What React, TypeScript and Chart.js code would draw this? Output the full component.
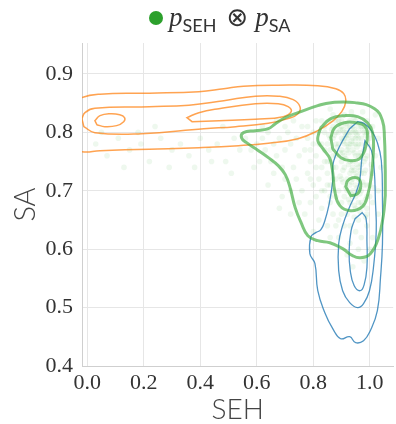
import React, { useEffect, useRef } from 'react';
import { Chart, registerables } from 'chart.js';

Chart.register(...registerables);

const xTicks = [0, 0.2, 0.4, 0.6, 0.8, 1.0];
const yTicks = [0.4, 0.5, 0.6, 0.7, 0.8, 0.9];

// green samples (SEH, SA)
const samplePairs: number[][] = [
  [0.86,0.79],[0.87,0.81],[0.88,0.78],[0.89,0.80],[0.90,0.82],[0.91,0.79],[0.92,0.77],[0.93,0.80],[0.94,0.81],[0.95,0.78],
  [0.96,0.80],[0.97,0.79],[0.98,0.81],[0.99,0.78],[0.88,0.76],[0.90,0.77],[0.92,0.81],[0.94,0.77],[0.96,0.76],[0.98,0.77],
  [0.87,0.83],[0.91,0.83],[0.95,0.82],[0.99,0.82],[0.93,0.78],[0.91,0.80],[0.95,0.80],[0.89,0.78],[0.97,0.81],[0.93,0.82],
  [0.86,0.77],[0.90,0.75],[0.94,0.75],[0.97,0.76],[1.00,0.79],[1.01,0.81],[0.92,0.79],[0.96,0.79],[0.90,0.81],[0.94,0.79],
  [0.88,0.82],[0.985,0.795],[0.925,0.765],[0.955,0.775],[0.905,0.785],[0.875,0.795],[0.945,0.805],[0.915,0.815],[0.965,0.815],[0.935,0.835],
  [0.895,0.765],[0.985,0.755],[0.865,0.805],[1.005,0.775],[0.975,0.835],[0.915,0.755],[0.955,0.745],[0.945,0.825],[0.925,0.795],[0.905,0.805],
  [0.90,0.72],[0.92,0.70],[0.93,0.73],[0.94,0.69],[0.95,0.71],[0.96,0.72],[0.97,0.70],[0.98,0.73],[0.99,0.71],[1.00,0.69],
  [0.91,0.74],[0.93,0.68],[0.95,0.67],[0.97,0.68],[0.99,0.67],[0.92,0.66],[0.94,0.72],[0.96,0.74],[0.98,0.75],[1.01,0.73],
  [0.89,0.70],[0.90,0.68],[0.955,0.705],[0.935,0.715],[0.975,0.715],[0.945,0.735],[0.965,0.695],[0.915,0.705],[0.985,0.685],[1.015,0.705],
  [0.925,0.745],[0.905,0.735],[0.945,0.655],[0.965,0.665],[0.985,0.655],[0.935,0.695],[0.955,0.725],[0.895,0.725],[1.005,0.745],[0.97,0.745],
  [0.88,0.74],[0.87,0.72],[0.91,0.76],[0.99,0.76],[1.02,0.76],[0.95,0.76],[0.93,0.75],
  [0.84,0.80],[0.85,0.78],[0.86,0.82],[0.87,0.79],[0.88,0.80],[0.89,0.82],[0.90,0.79],[0.91,0.78],[0.92,0.80],[0.93,0.81],
  [0.94,0.80],[0.95,0.79],[0.96,0.81],[0.97,0.78],[0.98,0.80],[0.99,0.80],[1.00,0.81],[0.92,0.78],[0.94,0.78],[0.96,0.78],
  [0.935,0.785],[0.915,0.795],[0.955,0.795],[0.975,0.805],[0.895,0.805],[0.885,0.775],[0.925,0.775],[0.965,0.765],[0.945,0.765],[0.905,0.765],
  [0.93,0.71],[0.94,0.70],[0.95,0.69],[0.96,0.70],[0.92,0.72],[0.97,0.73],[0.98,0.71],[0.94,0.74],[0.95,0.73],[0.96,0.68],
  [0.91,0.69],[0.99,0.69],[1.00,0.71],[0.925,0.685],[0.945,0.675],[0.975,0.675],[0.985,0.735],[0.905,0.715],[0.935,0.735],[0.965,0.735],
  [0.87,0.74],[0.85,0.71],[0.86,0.69],[0.84,0.75],[0.83,0.78],[0.82,0.80],[0.80,0.78],[0.81,0.74],[0.79,0.72],[0.83,0.70],
  [0.90,0.66],[0.93,0.64],[0.96,0.65],[0.99,0.66],[1.01,0.68],[0.89,0.65],[0.87,0.70],[0.88,0.72],[0.86,0.75],[0.855,0.795],
  [0.80,0.80],[0.82,0.78],[0.84,0.81],[0.78,0.79],[0.76,0.81],[0.81,0.76],[0.83,0.74],[0.79,0.75],[0.77,0.77],[0.85,0.75],
  [0.82,0.72],[0.84,0.70],[0.80,0.71],[0.78,0.73],[0.86,0.68],[0.83,0.67],[0.81,0.69],[0.85,0.73],[0.74,0.79],[0.72,0.78],
  [0.75,0.76],[0.73,0.74],[0.79,0.68],[0.82,0.65],[0.85,0.64],[0.87,0.66],[0.76,0.70],[0.83,0.82],[0.86,0.84],[0.81,0.82],
  [0.78,0.81],[0.74,0.72],[0.77,0.66],[0.80,0.63],[0.88,0.64],[0.84,0.77],[0.87,0.76],[0.86,0.71],[0.88,0.69],[0.79,0.77],
  [0.71,0.80],[0.70,0.77],[0.73,0.82],
  [0.68,0.79],[0.66,0.78],[0.64,0.80],[0.62,0.79],[0.67,0.76],[0.65,0.75],[0.69,0.74],[0.63,0.77],[0.60,0.78],[0.58,0.77],
  [0.56,0.79],[0.61,0.75],[0.59,0.74],[0.70,0.72],[0.66,0.73],[0.64,0.71],[0.69,0.69],[0.72,0.70],[0.62,0.81],[0.67,0.82],
  [0.70,0.81],[0.75,0.68],[0.72,0.66],[0.68,0.67],
  [0.03,0.78],[0.07,0.76],[0.11,0.79],[0.15,0.77],[0.19,0.78],[0.22,0.75],[0.26,0.79],[0.30,0.77],[0.33,0.78],[0.36,0.76],
  [0.40,0.79],[0.43,0.77],[0.46,0.78],[0.49,0.75],[0.52,0.79],[0.54,0.77],[0.13,0.74],[0.24,0.81],[0.38,0.74],[0.48,0.81],
  [0.05,0.80],[0.29,0.74],[0.44,0.75],[0.18,0.80],[0.51,0.73],
  [0.89,0.62],[0.91,0.64],[0.93,0.61],[0.95,0.63],[0.97,0.62],[0.99,0.64],[1.01,0.62],[0.92,0.59],[0.96,0.60],[1.00,0.60],
  [1.03,0.66],[1.03,0.70],[1.04,0.74],[1.03,0.79],[1.02,0.83],[0.86,0.62],[0.94,0.57],[0.98,0.58],
];

// orange contours
const orangeOuter = [
  [-0.061,0.8115],[-0.047,0.8474],[-0.019,0.8594],[0.045,0.8654],[0.220,0.8671],[0.395,0.8697],[0.483,0.8748],[0.553,0.8791],
  [0.676,0.8808],[0.816,0.880],[0.880,0.8748],[0.908,0.8663],[0.915,0.8526],[0.901,0.8354],[0.866,0.8183],[0.816,0.8029],
  [0.746,0.7892],[0.641,0.7815],[0.536,0.7772],[0.395,0.7738],[0.220,0.7712],[0.045,0.7687],[-0.019,0.7670],[-0.054,0.7772],
];
const orangeMiddle = [
  [-0.019,0.8235],[-0.008,0.8337],[0.027,0.8414],[0.220,0.8440],[0.360,0.8466],[0.483,0.8543],[0.595,0.8620],[0.676,0.8620],
  [0.729,0.8560],[0.753,0.8440],[0.746,0.8320],[0.711,0.8235],[0.641,0.8158],[0.525,0.8098],[0.413,0.8063],[0.192,0.7978],
  [0.027,0.7995],[-0.012,0.8098],
];
const orangeInnerLeft = [
  [0.027,0.820],[0.045,0.8286],[0.080,0.8320],[0.115,0.8303],[0.132,0.8252],[0.129,0.8183],[0.104,0.8115],[0.062,0.8098],[0.034,0.8132],
];
const orangeInnerRight = [
  [0.353,0.8252],[0.395,0.8337],[0.466,0.8406],[0.595,0.8491],[0.676,0.8491],[0.711,0.8440],[0.722,0.8354],[0.694,0.8269],
  [0.595,0.8226],[0.466,0.8200],[0.371,0.8183],
];

// blue contours
const blueOuter = [
  [0.957,0.8183],[0.981,0.8149],[1.006,0.8029],[1.027,0.7824],[1.041,0.7515],[1.045,0.6830],[1.045,0.6094],[1.038,0.5512],
  [1.027,0.4947],[1.002,0.4604],[0.978,0.4433],[0.950,0.4399],[0.929,0.4502],[0.897,0.4467],[0.869,0.4639],[0.841,0.4913],
  [0.816,0.5289],[0.806,0.5752],[0.788,0.5923],[0.792,0.6214],[0.809,0.6283],[0.827,0.6334],[0.841,0.6488],[0.855,0.6745],
  [0.869,0.7173],[0.869,0.7430],[0.883,0.7652],[0.904,0.7858],[0.929,0.8063],
];
const blueMiddle = [
  [0.983,0.7858],[1.006,0.7687],[1.016,0.7344],[1.020,0.6830],[1.023,0.6317],[1.013,0.5683],[0.999,0.5289],[0.978,0.5067],
  [0.957,0.4998],[0.929,0.5084],[0.904,0.5289],[0.890,0.5632],[0.890,0.6094],[0.904,0.6403],[0.929,0.6728],[0.950,0.6950],
  [0.964,0.7173],[0.971,0.7515],
];
const blueInner = [
  [0.973,0.6625],[0.987,0.6522],[0.990,0.6146],[0.990,0.5683],[0.980,0.5390],[0.966,0.5289],[0.945,0.5373],[0.931,0.5632],
  [0.927,0.5974],[0.934,0.6317],[0.948,0.6522],
];

// green contours
const greenOuter = [
  [1.055,0.7344],[1.052,0.7909],[1.045,0.8200],[1.017,0.8406],[0.947,0.8509],[0.863,0.8509],[0.816,0.8457],[0.746,0.8337],
  [0.701,0.8252],[0.666,0.8149],[0.641,0.8063],[0.595,0.8029],[0.553,0.7995],[0.546,0.7909],[0.564,0.7824],[0.606,0.7687],
  [0.641,0.7567],[0.676,0.7430],[0.701,0.7276],[0.718,0.7053],[0.736,0.6711],[0.757,0.6454],[0.781,0.6231],[0.816,0.6146],
  [0.859,0.6111],[0.904,0.6009],[0.939,0.5889],[0.967,0.5854],[1.002,0.5923],[1.030,0.6180],[1.048,0.6574],[1.055,0.6916],
];
const greenMiddle = [
  [0.827,0.8080],[0.862,0.8235],[0.911,0.8286],[0.957,0.8269],[0.992,0.8166],[1.010,0.7995],[1.013,0.7687],[1.006,0.7259],
  [0.992,0.6916],[0.974,0.6728],[0.932,0.6659],[0.894,0.6745],[0.876,0.7002],[0.869,0.7310],[0.859,0.7550],[0.834,0.7721],
  [0.816,0.7858],[0.820,0.7995],
];
const greenInnerTop = [
  [0.862,0.7909],[0.876,0.8080],[0.911,0.8166],[0.950,0.8166],[0.981,0.8115],[0.992,0.7978],[0.985,0.7738],[0.964,0.7550],
  [0.933,0.7515],[0.898,0.7567],[0.869,0.7721],
];
const greenInnerLow = [
  [0.915,0.7070],[0.922,0.7173],[0.939,0.7224],[0.961,0.7207],[0.968,0.7070],[0.957,0.6950],[0.933,0.6916],
];

const GREEN_LINE = 'rgba(60,170,60,0.66)';
const BLUE_LINE = 'rgba(31,119,180,0.78)';
const ORANGE_LINE = 'rgba(255,127,14,0.72)';

const toXY = (arr: number[][]) => arr.map(([x, y]) => ({ x, y }));

function contour(arr: number[][], color: string, width: number) {
  return {
    data: toXY(arr),
    showLine: true,
    fill: false,
    borderColor: color,
    borderWidth: width,
    pointRadius: 0,
    pointHoverRadius: 0,
    tension: 0.45,
    closed: true,
  } as any;
}

const closeLoops = {
  id: 'closeLoops',
  beforeDatasetsDraw(chart: any) {
    chart.data.datasets.forEach((ds: any, i: number) => {
      if (!ds.closed) return;
      const meta = chart.getDatasetMeta(i);
      const line = meta && meta.dataset;
      if (!line) return;
      line._loop = true;
      line._fullLoop = true;
      line._segments = undefined;
      line._path = undefined;
      line._pointsUpdated = false;
    });
  },
};

export default function App() {
  const ref = useRef<HTMLCanvasElement | null>(null);

  useEffect(() => {
    if (!ref.current) return;
    const chart = new Chart(ref.current, {
      type: 'scatter',
      data: {
        datasets: [
          contour(greenOuter, GREEN_LINE, 3),
          contour(greenMiddle, GREEN_LINE, 3),
          contour(greenInnerTop, GREEN_LINE, 3),
          contour(greenInnerLow, GREEN_LINE, 3),
          contour(blueOuter, BLUE_LINE, 1.3),
          contour(blueMiddle, BLUE_LINE, 1.3),
          contour(blueInner, BLUE_LINE, 1.3),
          contour(orangeOuter, ORANGE_LINE, 1.5),
          contour(orangeMiddle, ORANGE_LINE, 1.5),
          contour(orangeInnerLeft, ORANGE_LINE, 1.5),
          contour(orangeInnerRight, ORANGE_LINE, 1.5),
          {
            data: toXY(samplePairs),
            showLine: false,
            pointRadius: 2.8,
            pointHoverRadius: 2.8,
            pointBorderWidth: 0,
            pointBackgroundColor: 'rgba(44,160,44,0.08)',
          } as any,
        ],
      },
      options: {
        responsive: false,
        animation: false,
        devicePixelRatio: 1,
        layout: { padding: { top: 43, left: 0, right: 0, bottom: 0 } },
        plugins: { legend: { display: false }, tooltip: { enabled: false } },
        scales: {
          x: {
            type: 'linear',
            min: -0.0186,
            max: 1.083,
            afterBuildTicks: (s: any) => { s.ticks = xTicks.map((v) => ({ value: v })); },
            afterFit: (s: any) => { s.height = 58; },
            grid: { color: '#e6e6e6', lineWidth: 1, drawTicks: false },
            border: { display: true, color: '#cfcfcf', width: 1 },
            ticks: {
              padding: 4,
              color: '#333',
              autoSkip: false,
              maxRotation: 0,
              font: { family: '"Liberation Serif", serif', size: 22 },
              callback: (v: any) => Number(v).toFixed(1),
            },
            title: {
              display: true,
              text: 'SEH',
              color: '#444',
              font: { family: 'Lato, sans-serif', size: 28, weight: '300', lineHeight: 1 },
              padding: { top: 0, bottom: 0 },
            },
          },
          y: {
            type: 'linear',
            min: 0.4,
            max: 0.953,
            afterBuildTicks: (s: any) => { s.ticks = yTicks.map((v) => ({ value: v })); },
            afterFit: (s: any) => { s.width = 82; },
            grid: { color: '#e6e6e6', lineWidth: 1, drawTicks: false },
            border: { display: true, color: '#cfcfcf', width: 1 },
            ticks: {
              padding: 9,
              color: '#333',
              autoSkip: false,
              font: { family: '"Liberation Serif", serif', size: 22 },
              callback: (v: any) => Number(v).toFixed(1),
            },
            title: {
              display: true,
              text: 'SA',
              color: '#444',
              font: { family: 'Lato, sans-serif', size: 29, weight: '300', lineHeight: 1 },
              padding: { top: 11, bottom: 0 },
            },
          },
        },
      } as any,
      plugins: [closeLoops],
    });
    return () => chart.destroy();
  }, []);

  const subStyle: React.CSSProperties = {
    fontFamily: 'Lato, sans-serif',
    fontStyle: 'normal',
    fontSize: 18,
    position: 'relative',
    top: 6,
  };

  return (
    <div style={{ position: 'fixed', left: 0, top: 0, width: 396, height: 424, background: '#fff' }}>
      <canvas ref={ref} width={396} height={424} style={{ display: 'block', width: 396, height: 424 }} />
      <span
        style={{
          position: 'absolute', left: 149, top: 11, width: 14, height: 14,
          borderRadius: '50%', background: '#2ca02c',
        }}
      />
      <div
        style={{
          position: 'absolute', left: 169, top: 0, whiteSpace: 'nowrap', color: '#333',
          fontFamily: '"Liberation Serif", serif', fontSize: 27, lineHeight: '34px',
        }}
      >
        <i>p</i>
        <span style={subStyle}>SEH</span>
        <span style={{ fontFamily: '"DejaVu Sans", sans-serif', fontSize: 26, margin: '0 7px 0 10px' }}>⊗</span>
        <i>p</i>
        <span style={subStyle}>SA</span>
      </div>
    </div>
  );
}
